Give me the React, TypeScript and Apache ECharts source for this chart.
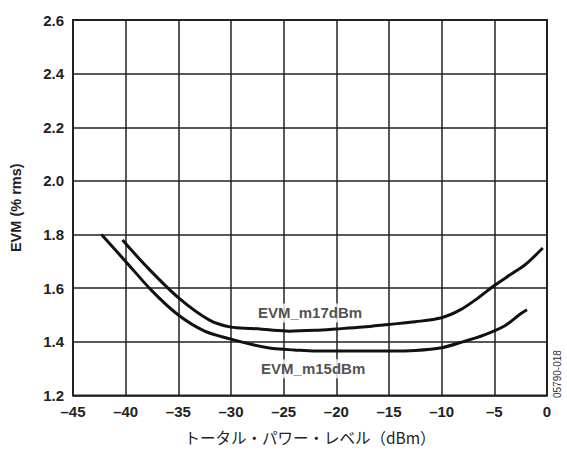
import React, { useEffect, useRef } from "react";
import * as echarts from "echarts";

const m17X = [-40.3, -38, -35, -32, -30, -28, -26, -24.5, -22, -20, -17.5, -15, -12.5, -10, -8.2, -6.5, -5, -3.5, -2, -0.4];
const m17Y = [1.78, 1.68, 1.565, 1.48, 1.455, 1.45, 1.443, 1.44, 1.443, 1.448, 1.455, 1.465, 1.475, 1.49, 1.52, 1.565, 1.61, 1.65, 1.69, 1.75];
const m15X = [-42.3, -40, -37.5, -35, -32.5, -30, -28, -26, -24, -22, -20, -17.5, -15, -12.5, -10, -8, -6, -4, -2.5, -1.9];
const m15Y = [1.80, 1.70, 1.59, 1.50, 1.44, 1.41, 1.39, 1.375, 1.37, 1.366, 1.366, 1.366, 1.366, 1.368, 1.378, 1.40, 1.425, 1.46, 1.505, 1.52];
const labelNames = ["EVM_m17dBm", "EVM_m15dBm"];
const labelX = [-22.5, -22.2];
const labelY = [1.508, 1.30];

const FONT = "Liberation Sans, Arial, sans-serif";

export default function App() {
  const ref = useRef<HTMLDivElement>(null);
  useEffect(() => {
    const chart = echarts.init(ref.current!, null, { renderer: "svg" });
    const fmt = (v: number) => (v < 0 ? "\u2013" + Math.abs(v) : String(v));
    chart.setOption({
      animation: false,
      backgroundColor: "#fff",
      grid: { left: 69, right: 20, top: 20, bottom: 48, show: true, borderColor: "#222", borderWidth: 2 },
      xAxis: {
        type: "value", min: -45, max: 0, interval: 5,
        axisLine: { show: false }, axisTick: { show: false },
        splitLine: { show: true, lineStyle: { color: "#222", width: 1.5 } },
        axisLabel: { formatter: fmt, color: "#222", fontFamily: FONT, fontSize: 15, fontWeight: "bold", margin: 9 },
        name: "トータル・パワー・レベル（dBm）", nameLocation: "middle", nameGap: 34,
        nameTextStyle: { color: "#222", fontFamily: "Noto Sans CJK JP, sans-serif", fontSize: 15.5 },
      },
      yAxis: {
        type: "value", min: 1.2, max: 2.6, interval: 0.2,
        axisLine: { show: false }, axisTick: { show: false },
        splitLine: { show: true, lineStyle: { color: "#222", width: 1.5 } },
        axisLabel: { formatter: (v: number) => v.toFixed(1), color: "#222", fontFamily: FONT, fontSize: 15, fontWeight: "bold", margin: 9 },
        name: "EVM (% rms)", nameLocation: "middle", nameGap: 50,
        nameTextStyle: { color: "#222", fontFamily: FONT, fontSize: 14.5, fontWeight: "bold" },
      },
      series: [
        {
          type: "line", data: m17X.map((x, i) => [x, m17Y[i]]), smooth: 0.3, symbol: "none",
          lineStyle: { color: "#111", width: 3 },
        },
        {
          type: "line", data: m15X.map((x, i) => [x, m15Y[i]]), smooth: 0.3, symbol: "none",
          lineStyle: { color: "#111", width: 3 },
        },
        {
          type: "scatter", symbolSize: 0, z: 5,
          data: labelNames.map((n, i) => ({ value: [labelX[i], labelY[i]], name: n })),
          label: {
            show: true, position: "inside", formatter: (p: any) => p.name,
            color: "#222", fontFamily: FONT, fontSize: 15, fontWeight: "bold",
            backgroundColor: "#fff", padding: [2, 3],
          },
        },
      ],
      graphic: [
        {
          type: "text", x: 557, y: 398, rotation: Math.PI / 2,
          style: { text: "05790-018", fill: "#333", font: "10px " + FONT, align: "left", verticalAlign: "middle" },
        },
      ],
    });
    return () => chart.dispose();
  }, []);
  return <div ref={ref} style={{ width: 567, height: 450, position: "absolute", left: 0, top: 0 }} />;
}
